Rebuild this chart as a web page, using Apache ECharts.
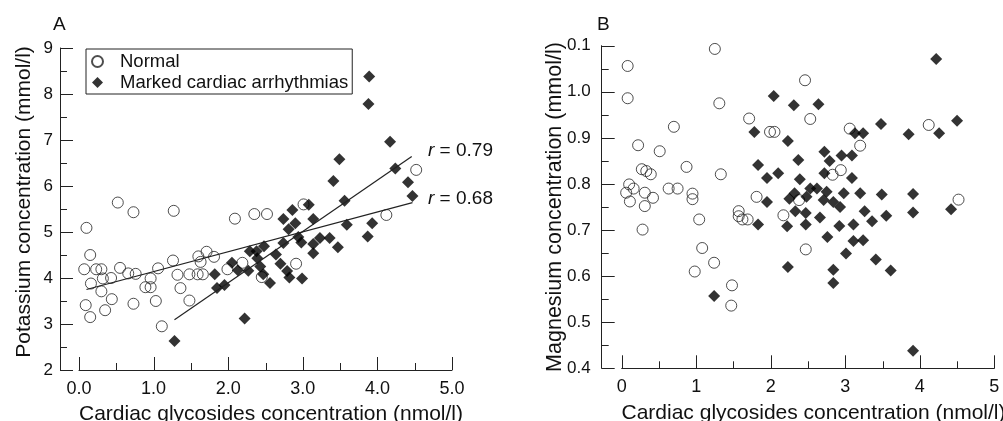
<!DOCTYPE html>
<html><head><meta charset="utf-8">
<script src="https://cdn.jsdelivr.net/npm/echarts@6/dist/echarts.min.js"></script>
<style>html,body{margin:0;padding:0;background:#fff}#c{width:1003px;height:421px}</style>
</head><body><div id="c"></div>
<script>
// ---- Panel A: potassium vs cardiac glycosides ----
const normalA = [
 [0.10,5.09],[0.15,4.50],[0.07,4.19],[0.23,4.19],[0.30,4.19],[0.32,3.99],[0.43,4.00],[0.55,4.22],
 [0.66,4.10],[0.76,4.09],[0.16,3.88],[0.30,3.71],[0.44,3.54],[0.09,3.41],[0.35,3.30],[0.15,3.15],
 [0.73,3.44],[0.52,5.64],[0.73,5.43],[1.27,5.46],[0.96,3.99],[0.89,3.80],[0.96,3.80],[1.03,3.50],
 [1.06,4.21],[1.26,4.38],[1.32,4.07],[1.36,3.78],[1.48,3.51],[1.11,2.95],[1.48,4.08],[1.59,4.08],
 [1.66,4.08],[1.60,4.47],[1.63,4.35],[1.71,4.57],[1.81,4.46],[1.99,4.19],[2.09,5.29],[2.35,5.39],
 [2.52,5.39],[2.19,4.33],[2.45,4.02],[2.91,4.31],[3.01,5.60],[4.52,6.35],[4.12,5.37]
];
const markedA = [
 [3.89,8.38],[3.88,7.78],[4.17,6.96],[3.49,6.58],[3.41,6.11],[4.24,6.38],[4.41,6.08],[4.47,5.78],
 [3.56,5.68],[3.08,5.59],[3.14,5.28],[3.59,5.16],[3.93,5.19],[3.87,4.90],[3.23,4.87],[3.36,4.87],
 [3.47,4.67],[3.14,4.74],[3.14,4.54],[2.98,4.77],[2.99,3.99],[2.86,5.48],[2.74,5.28],[2.90,5.19],
 [2.81,5.06],[2.94,4.89],[2.74,4.76],[2.48,4.69],[2.29,4.58],[2.38,4.58],[2.39,4.43],[2.64,4.51],
 [2.05,4.33],[2.13,4.17],[2.27,4.16],[2.43,4.25],[2.47,4.08],[2.70,4.31],[2.79,4.15],[2.82,4.01],
 [2.56,3.89],[1.82,4.08],[1.85,3.78],[1.95,3.85],[2.22,3.12],[1.28,2.63]
];
const fitNormalA = [[0.10,3.75],[4.47,5.64]];
const fitMarkedA = [[1.28,3.09],[4.46,6.64]];
const xLabelsA = ['0.0','1.0','2.0','3.0','4.0','5.0'];
const yLabelsA = ['2','3','4','5','6','7','8','9'];
const xTicksMajor = [0,1,2,3,4,5];
const xTicksMinor = [0.5,1.5,2.5,3.5,4.5];
const yTicksMajorA = [2,3,4,5,6,7,8,9];
const yTicksMinorA = [2.5,3.5,4.5,5.5,6.5,7.5,8.5];

// ---- Panel B: magnesium vs cardiac glycosides ----
const normalB = [
 [0.08,1.056],[0.08,0.986],[1.25,1.093],[1.31,0.975],[0.70,0.924],[0.22,0.884],[0.51,0.871],[0.27,0.832],
 [0.33,0.828],[0.39,0.821],[0.87,0.837],[1.33,0.821],[0.10,0.799],[0.06,0.781],[0.16,0.790],[0.31,0.781],
 [0.42,0.770],[0.11,0.762],[0.31,0.752],[0.63,0.790],[0.75,0.790],[0.95,0.779],[0.95,0.767],[1.04,0.723],
 [0.28,0.701],[1.08,0.661],[0.98,0.610],[1.24,0.629],[2.46,1.025],[1.71,0.942],[2.53,0.941],[1.99,0.913],
 [2.05,0.913],[3.06,0.920],[3.20,0.883],[4.12,0.928],[2.94,0.830],[2.83,0.820],[1.81,0.772],[1.57,0.741],
 [1.57,0.730],[1.62,0.723],[1.69,0.723],[2.17,0.732],[2.38,0.765],[4.52,0.766],[1.48,0.580],[1.47,0.536],
 [2.47,0.658]
];
const markedB = [
 [4.22,1.071],[2.04,0.991],[2.31,0.971],[2.64,0.973],[3.48,0.930],[4.50,0.937],[1.78,0.913],[3.13,0.910],
 [3.24,0.910],[3.85,0.908],[4.26,0.910],[2.23,0.893],[2.72,0.870],[2.95,0.862],[3.09,0.862],[2.37,0.852],
 [2.79,0.850],[1.83,0.841],[2.10,0.823],[1.95,0.813],[2.39,0.810],[2.72,0.823],[3.09,0.813],[2.53,0.790],
 [2.62,0.790],[2.32,0.780],[2.25,0.768],[2.48,0.772],[2.75,0.783],[2.71,0.765],[2.84,0.761],[2.98,0.780],
 [3.20,0.780],[3.49,0.777],[3.91,0.778],[1.95,0.761],[2.93,0.750],[2.33,0.741],[2.47,0.737],[3.26,0.741],
 [2.66,0.727],[3.55,0.731],[3.91,0.738],[4.42,0.745],[3.36,0.719],[1.83,0.712],[2.22,0.708],[2.47,0.712],
 [2.92,0.709],[3.11,0.712],[2.76,0.685],[3.11,0.676],[3.24,0.678],[3.01,0.649],[3.41,0.636],[2.23,0.620],
 [2.84,0.614],[3.61,0.612],[2.84,0.585],[1.24,0.557],[3.91,0.438]
];
const xLabelsB = ['0','1','2','3','4','5'];
const yLabelsB = ['0.4','0.5','0.6','0.7','0.8','0.9','1.0','0.1'];
const yTicksMajorB = [0.4,0.5,0.6,0.7,0.8,0.9,1.0,1.1];
const yTicksMinorB = [0.45,0.55,0.65,0.75,0.85,0.95,1.05];

const FONT = '"Liberation Sans", Arial, sans-serif';
const INK = '#111';
const AX = '#222';

function visX(gi, labels) {
  return {
    type: 'value', gridIndex: gi, min: 0, max: 5, interval: 1,
    name: 'Cardiac glycosides concentration (nmol/l)', nameLocation: 'middle', nameGap: 34,
    nameMoveOverlap: false,
    nameTextStyle: {fontFamily: FONT, fontSize: 21, color: INK, padding: [0, 0, 0, 11]},
    axisLine: {show: true, onZero: false, lineStyle: {color: AX, width: 1}},
    axisTick: {show: false}, minorTick: {show: false},
    splitLine: {show: false},
    axisLabel: {fontFamily: FONT, fontSize: 18, color: INK, margin: 10,
      formatter: v => labels[Math.round(v)]}
  };
}
function hidX(gi) {
  return {type: 'value', gridIndex: gi, min: 0, max: 1, show: false, splitLine: {show: false}};
}
function hidY(gi, min, max) {
  return {type: 'value', gridIndex: gi, min: min, max: max, show: false, splitLine: {show: false}};
}
function visY(gi, name, labels, min, max, interval, gap, margin, fs, shift) {
  return {
    type: 'value', gridIndex: gi, min: min, max: max, interval: interval,
    name: name, nameLocation: 'middle', nameRotate: 90, nameGap: gap, nameMoveOverlap: false,
    nameTextStyle: {fontFamily: FONT, fontSize: fs, color: INK, padding: [0, 0, 0, shift]},
    axisLine: {show: true, onZero: false, lineStyle: {color: AX, width: 1}},
    axisTick: {show: false}, minorTick: {show: false},
    splitLine: {show: false},
    axisLabel: {fontFamily: FONT, fontSize: 17, color: INK, margin: margin,
      formatter: v => labels[Math.round((v - min) / interval)]}
  };
}
// inward tick marks, positioned through the axes' own scales
function tickSeries(xi, yi, values, dir, baseVal, len) {
  return {
    type: 'custom', xAxisIndex: xi, yAxisIndex: yi, silent: true, clip: false, z: 3,
    data: values.map(v => dir === 'x' ? [v, baseVal] : [baseVal, v]),
    renderItem: function (params, api) {
      const p = api.coord([api.value(0), api.value(1)]);
      if (dir === 'x') {
        const x = Math.round(p[0]) + 0.5;
        return {type: 'line', shape: {x1: x, y1: p[1], x2: x, y2: p[1] - len},
                style: {stroke: AX, lineWidth: 1}};
      }
      const y = Math.round(p[1]) + 0.5;
      return {type: 'line', shape: {x1: p[0], y1: y, x2: p[0] + len, y2: y},
              style: {stroke: AX, lineWidth: 1}};
    }
  };
}
const normalStyle = {color: 'rgba(255,255,255,0)', borderColor: '#222', borderWidth: 1};
const markedStyle = {color: '#000'};

const chart = echarts.init(document.getElementById('c'));
chart.setOption({
  backgroundColor: '#fff',
  animation: false,
  textStyle: {fontFamily: FONT},
  grid: [
    {left: 79, top: 48, width: 373, height: 322, outerBoundsMode: 'none'},
    {left: 60, top: 48, width: 392, height: 322, outerBoundsMode: 'none'},
    {left: 621.7, top: 45.7, width: 372.6, height: 322.6, outerBoundsMode: 'none'},
    {left: 601.7, top: 45.7, width: 392.6, height: 322.6, outerBoundsMode: 'none'}
  ],
  xAxis: [visX(0, xLabelsA), hidX(1), visX(2, xLabelsB), hidX(3)],
  yAxis: [
    hidY(0, 2, 9),
    visY(1, 'Potassium concentration (mmol/l)', yLabelsA, 2, 9, 1, 25, 7, 21, 14),
    hidY(2, 0.4, 1.1),
    visY(3, 'Magnesium concentration (mmol/l)', yLabelsB, 0.4, 1.1, 0.1, 36, 11, 21.5, 0)
  ],
  legend: {
    show: true, orient: 'vertical', left: 86, top: 49,
    data: ['Normal', 'Marked cardiac arrhythmias'],
    itemWidth: 11, itemHeight: 11, itemGap: 2,
    padding: [3, 4, 2, 5],
    borderColor: '#222', borderWidth: 1, borderRadius: 0, backgroundColor: '#fff',
    selectedMode: false,
    textStyle: {fontFamily: FONT, fontSize: 18.5, color: INK, padding: [0, 0, 0, 12]}
  },
  series: [
    {name: 'Normal', type: 'scatter', xAxisIndex: 0, yAxisIndex: 0, data: normalA,
     symbol: 'circle', symbolSize: 11, itemStyle: normalStyle},
    {name: 'Marked cardiac arrhythmias', type: 'scatter', xAxisIndex: 0, yAxisIndex: 0, data: markedA,
     symbol: 'diamond', symbolSize: 12, itemStyle: markedStyle},
    {name: 'fitNormalA', type: 'line', xAxisIndex: 0, yAxisIndex: 0, data: fitNormalA,
     symbol: 'none', lineStyle: {color: '#222', width: 1.2}, z: 5},
    {name: 'fitMarkedA', type: 'line', xAxisIndex: 0, yAxisIndex: 0, data: fitMarkedA,
     symbol: 'none', lineStyle: {color: '#222', width: 1.2}, z: 5},
    {name: 'Normal', type: 'scatter', xAxisIndex: 2, yAxisIndex: 2, data: normalB,
     symbol: 'circle', symbolSize: 11, itemStyle: normalStyle},
    {name: 'Marked cardiac arrhythmias', type: 'scatter', xAxisIndex: 2, yAxisIndex: 2, data: markedB,
     symbol: 'diamond', symbolSize: 12, itemStyle: markedStyle},
    tickSeries(0, 0, xTicksMajor, 'x', 2, 13),
    tickSeries(0, 0, xTicksMinor, 'x', 2, 7),
    tickSeries(1, 1, yTicksMajorA, 'y', 0, 13),
    tickSeries(1, 1, yTicksMinorA, 'y', 0, 7),
    tickSeries(2, 2, xTicksMajor, 'x', 0.4, 13),
    tickSeries(2, 2, xTicksMinor, 'x', 0.4, 7),
    tickSeries(3, 3, yTicksMajorB, 'y', 0, 13),
    tickSeries(3, 3, yTicksMinorB, 'y', 0, 7)
  ],
  graphic: [
    {type: 'text', left: 53, top: 15, style: {text: 'A', font: '19px ' + FONT, fill: INK}},
    {type: 'text', left: 597, top: 15, style: {text: 'B', font: '19px ' + FONT, fill: INK}},
    {type: 'text', left: 428, top: 141, style: {text: '{i|r} = 0.79', font: '19px ' + FONT, fill: INK,
      rich: {i: {fontStyle: 'italic', fontSize: 19, fontFamily: FONT, fill: INK}}}},
    {type: 'text', left: 428, top: 189, style: {text: '{i|r} = 0.68', font: '19px ' + FONT, fill: INK,
      rich: {i: {fontStyle: 'italic', fontSize: 19, fontFamily: FONT, fill: INK}}}}
  ]
});
</script></body></html>
